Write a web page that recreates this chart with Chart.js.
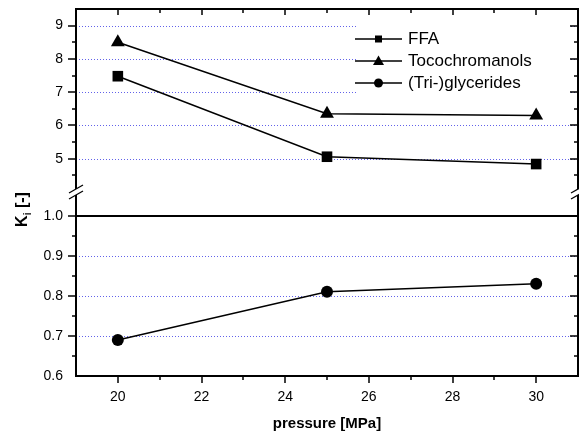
<!DOCTYPE html>
<html><head><meta charset="utf-8">
<script src="https://cdn.jsdelivr.net/npm/chart.js@4/dist/chart.umd.min.js"></script>
<style>html,body{margin:0;padding:0;background:#fff}#wrap{width:579px;height:437px}</style>
</head><body><div id="wrap"><canvas id="c" width="579" height="437"></canvas></div>
<script>
// ---- data ----
const pressure = [20, 25, 30];
const ffa = [7.48, 5.06, 4.84];
const tocochromanols = [8.50, 6.35, 6.30];
const glycerides = [0.69, 0.81, 0.83];
const seriesLabels = ['FFA', 'Tocochromanols', '(Tri-)glycerides'];
const xTickLabels = [20, 22, 24, 26, 28, 30];
const yUpperTickLabels = [5, 6, 7, 8, 9];
const yLowerTickLabels = [0.6, 0.7, 0.8, 0.9, 1.0];

const FONT = '"Liberation Sans", Arial, sans-serif';
const pts = (ys) => pressure.map((x, i) => ({ x: x, y: ys[i] }));

const decor = {
  id: 'decor',
  beforeDatasetsDraw(chart) {
    const ctx = chart.ctx, a = chart.chartArea;
    const yt = chart.scales.yTop, yb = chart.scales.yBot;
    ctx.save();
    // dotted grid lines
    ctx.strokeStyle = 'rgba(70,70,230,0.85)';
    ctx.lineWidth = 1;
    ctx.setLineDash([1, 2]);
    const grid = [];
    yUpperTickLabels.forEach(v => grid.push(Math.round(yt.getPixelForValue(v)) + 0.5));
    yLowerTickLabels.filter(v => v > 0.6 && v < 1.0).forEach(v => grid.push(Math.round(yb.getPixelForValue(v)) + 0.5));
    grid.forEach(y => { ctx.beginPath(); ctx.moveTo(a.left, y); ctx.lineTo(a.right, y); ctx.stroke(); });
    ctx.setLineDash([]);
    // solid 1.0 line
    const y1 = Math.round(yb.getPixelForValue(1.0));
    ctx.strokeStyle = '#000'; ctx.lineWidth = 2;
    ctx.beginPath(); ctx.moveTo(a.left, y1); ctx.lineTo(a.right, y1); ctx.stroke();
    // legend background
    ctx.fillStyle = '#fff';
    ctx.fillRect(a.left + 281, a.top + 6, 212, 86);
    ctx.restore();
  },
  afterDatasetsDraw(chart) {
    const ctx = chart.ctx, a = chart.chartArea;
    const x = chart.scales.x, yt = chart.scales.yTop, yb = chart.scales.yBot;
    ctx.save();
    ctx.strokeStyle = '#000'; ctx.fillStyle = '#000';
    // frame
    ctx.lineWidth = 2;
    ctx.strokeRect(a.left, a.top, a.right - a.left, a.bottom - a.top);
    ctx.lineWidth = 1.5;
    const tick = (x0, y0, x1, y1) => { ctx.beginPath(); ctx.moveTo(x0, y0); ctx.lineTo(x1, y1); ctx.stroke(); };
    // x ticks
    for (let v = 19; v <= 31; v++) {
      const px = Math.round(x.getPixelForValue(v));
      if (px <= a.left + 1 || px >= a.right - 1) continue;
      const major = v % 2 === 0;
      tick(px, a.bottom, px, a.bottom + (major ? 7 : 4));
      tick(px, a.top, px, a.top + (major ? 6 : 4));
    }
    // y ticks
    const yTicksAll = [];
    for (let v = 4.5; v <= 9.01; v += 0.5) yTicksAll.push([yt.getPixelForValue(v), Math.abs(v - Math.round(v)) < 1e-6]);
    for (let v = 0.65; v <= 1.001; v += 0.05) yTicksAll.push([yb.getPixelForValue(v), Math.abs(v * 10 - Math.round(v * 10)) < 1e-6]);
    yTicksAll.forEach(([py, major]) => {
      py = Math.round(py);
      tick(a.left - (major ? 8 : 4), py, a.left, py);
      tick(a.right, py, a.right - (major ? 8 : 4), py);
    });
    // axis breaks
    const by = Math.round((yt.bottom + yb.top) / 2);
    [a.left, a.right].forEach(bx => {
      ctx.fillStyle = '#fff';
      ctx.fillRect(bx - 2, by - 3, 4, 6);
      ctx.strokeStyle = '#000'; ctx.lineWidth = 1.3;
      tick(bx - 7, by + 1, bx + 7, by - 7);
      tick(bx - 7, by + 7, bx + 7, by - 1);
    });
    // x tick labels
    ctx.fillStyle = '#000';
    ctx.font = '14px ' + FONT;
    ctx.textAlign = 'center'; ctx.textBaseline = 'alphabetic';
    xTickLabels.forEach(v => ctx.fillText(String(v), x.getPixelForValue(v), a.bottom + 25));
    ctx.textAlign = 'left';
    // legend
    const styles = ['rect', 'triangle', 'circle'];
    ctx.font = '17px ' + FONT;
    ctx.textBaseline = 'middle';
    seriesLabels.forEach((lab, i) => {
      const ly = a.top + 30 + i * 22;
      const lx0 = a.left + 279, lx1 = a.left + 326, mx = (lx0 + lx1) / 2;
      ctx.lineWidth = 1.5;
      tick(lx0, ly, lx1, ly);
      ctx.beginPath();
      if (styles[i] === 'rect') ctx.rect(mx - 3.5, ly - 3.5, 7, 7);
      else if (styles[i] === 'triangle') { ctx.moveTo(mx, ly - 5.5); ctx.lineTo(mx + 5.5, ly + 4); ctx.lineTo(mx - 5.5, ly + 4); ctx.closePath(); }
      else ctx.arc(mx, ly, 4.5, 0, Math.PI * 2);
      ctx.fill();
      ctx.fillText(lab, a.left + 332, ly);
    });
    // y title  K_i [-]
    ctx.translate(27, (a.top + a.bottom) / 2 + 17);
    ctx.rotate(-Math.PI / 2);
    ctx.textBaseline = 'alphabetic';
    const fBig = 'bold 16px ' + FONT, fSub = 'bold 10px ' + FONT;
    ctx.font = fBig; const wK = ctx.measureText('K').width;
    const wR = ctx.measureText(' [-]').width;
    ctx.font = fSub; const wI = ctx.measureText('i').width;
    let sx = -(wK + wI + wR) / 2;
    ctx.font = fBig; ctx.fillText('K', sx, 0); sx += wK;
    ctx.font = fSub; ctx.fillText('i', sx, 4); sx += wI;
    ctx.font = fBig; ctx.fillText(' [-]', sx, 0);
    ctx.restore();
  }
};

const lineDs = (label, data, axis, style, r) => ({
  label, data, yAxisID: axis,
  borderColor: '#000', backgroundColor: '#000', borderWidth: 1.5,
  pointStyle: style, pointRadius: r, pointHoverRadius: r,
  pointBackgroundColor: '#000', pointBorderColor: '#000', pointBorderWidth: 0,
  tension: 0, fill: false, clip: false
});

const noPad = s => { s.paddingTop = 0; s.paddingBottom = 0; s.paddingLeft = 0; s.paddingRight = 0; };

new Chart(document.getElementById('c'), {
  type: 'line',
  data: {
    datasets: [
      lineDs(seriesLabels[0], pts(ffa), 'yTop', 'rect', 7.5),
      lineDs(seriesLabels[1], pts(tocochromanols), 'yTop', 'triangle', 8),
      lineDs(seriesLabels[2], pts(glycerides), 'yBot', 'circle', 6)
    ]
  },
  options: {
    responsive: false, animation: false, devicePixelRatio: 1,
    layout: { autoPadding: false, padding: { top: 9, right: 1, left: 0, bottom: 0 } },
    plugins: { legend: { display: false }, tooltip: { enabled: false } },
    scales: {
      x: {
        type: 'linear', min: 19, max: 31,
        grid: { display: false, drawTicks: false }, border: { display: false },
        ticks: { display: false, stepSize: 2 },
        title: { display: true, text: 'pressure [MPa]', color: '#000',
          font: { family: FONT, size: 15, weight: 'bold' }, padding: { top: 0, bottom: 4 } },
        afterFit: s => { s.height = 61; noPad(s); }
      },
      yBot: {
        type: 'linear', position: 'left', stack: 'k', stackWeight: 184,
        min: 0.6, max: 1.059,
        grid: { display: false, drawTicks: false }, border: { display: false },
        ticks: {
          stepSize: 0.1, includeBounds: false, padding: 13, color: '#000',
          font: { family: FONT, size: 14 },
          callback: v => yLowerTickLabels.some(t => Math.abs(t - v) < 1e-6) ? v.toFixed(1) : ''
        },
        afterFit: s => { s.width = 76; noPad(s); }
      },
      yTop: {
        type: 'linear', position: 'left', stack: 'k', stackWeight: 183,
        min: 4, max: 9.5,
        grid: { display: false, drawTicks: false }, border: { display: false },
        ticks: {
          stepSize: 1, includeBounds: false, padding: 13, color: '#000',
          font: { family: FONT, size: 14 },
          callback: v => yUpperTickLabels.includes(v) ? String(v) : ''
        },
        afterFit: s => { s.width = 76; noPad(s); }
      }
    }
  },
  plugins: [decor]
});
</script>
</body></html>
